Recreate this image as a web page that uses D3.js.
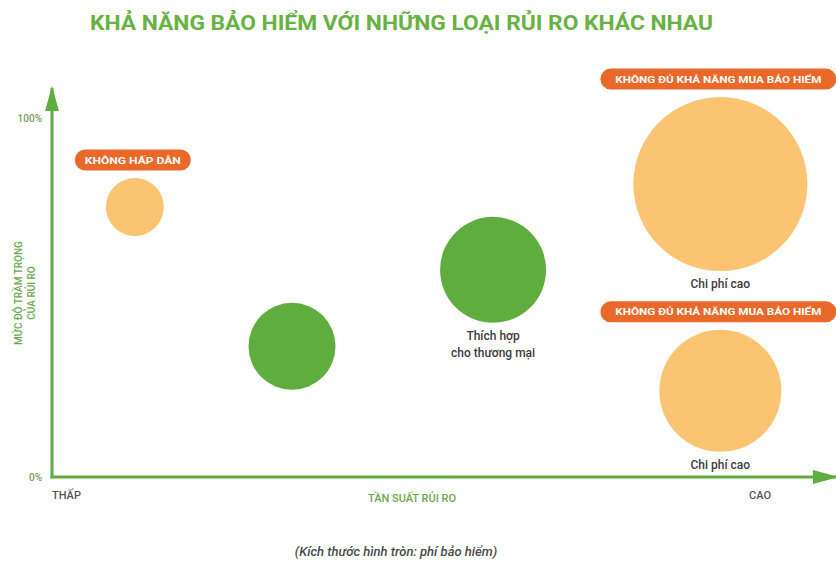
<!DOCTYPE html>
<html>
<head>
<meta charset="utf-8">
<script src="https://cdn.jsdelivr.net/npm/d3@7"></script>
<style>
	body { margin:0; background:#fff; }
	text { font-family: Roboto, "Noto Sans", sans-serif; }
</style>
</head>
<body>
<div id="chart"></div>
<script>

//data
const frequency = [11.7, 33.9, 62.3, 94.4, 94.4];      // tần suất (0 = thấp, 100 = cao)
const severity  = [75.2, 36.4, 57.7, 81.6, 24.0];      // mức độ trầm trọng (%)
const premium   = [11.1, 25.0, 37.1, 100, 49.2];       // phí bảo hiểm (kích thước)
const kind      = ["bad", "good", "good", "bad", "bad"];
const topLabel  = ["KHÔNG HẤP DẪN", "", "", "KHÔNG ĐỦ KHẢ NĂNG MUA BẢO HIỂM", "KHÔNG ĐỦ KHẢ NĂNG MUA BẢO HIỂM"];
const bottomLabel = [[], [], ["Thích hợp", "cho thương mại"], ["Chi phí cao"], ["Chi phí cao"]];
const yTicks = [0, 100];
const xTickLabels = ["THẤP", "CAO"];

const width = 836, height = 567;
const green = "#5fad3e", orange = "#fbc473", pill = "#e8692a";

let svg = d3.select("#chart")
	.append("svg")
	.attr("width", width)
	.attr("height", height);

//scales
let x = d3.scaleLinear().domain([0, 100]).range([52, 760]);
let y = d3.scaleLinear().domain([0, 100]).range([477, 118]);
let r = d3.scaleSqrt().domain([0, 100]).range([0, 87]);
let fillColor = d3.scaleOrdinal().domain(["good", "bad"]).range([green, orange]);

let data = frequency.map((f, i) => ({
	f: f, s: severity[i], p: premium[i], kind: kind[i],
	top: topLabel[i], bottom: bottomLabel[i]
}));

//title
svg.append("text")
	.attr("x", 90)
	.attr("y", 30)
	.attr("fill", "#68b243")
	.attr("font-size", 21)
	.attr("font-weight", "bold")
	.attr("textLength", 623)
	.attr("lengthAdjust", "spacingAndGlyphs")
	.text("KHẢ NĂNG BẢO HIỂM VỚI NHỮNG LOẠI RỦI RO KHÁC NHAU");

//arrow heads
let defs = svg.append("defs");
defs.append("marker")
	.attr("id", "arrow")
	.attr("viewBox", "0 0 10 10")
	.attr("refX", 9)
	.attr("refY", 5)
	.attr("markerUnits", "userSpaceOnUse")
	.attr("markerWidth", 26)
	.attr("markerHeight", 14)
	.attr("orient", "auto")
	.attr("preserveAspectRatio", "none")
	.append("path")
	.attr("d", "M0,0 L10,5 L0,10 Z")
	.attr("fill", green);

//y axis (labels only)
let yAxis = svg.append("g")
	.attr("transform", "translate(" + x(0) + ",0)")
	.call(d3.axisLeft(y).tickValues(yTicks).tickSize(0).tickPadding(10).tickFormat(d => d + "%"));
yAxis.select(".domain").remove();
yAxis.selectAll("text")
	.attr("fill", "#7a9a6a")
	.attr("font-size", 10)
	.attr("font-weight", 500)
	.attr("font-family", "Roboto, sans-serif");

//axis lines
svg.append("line")
	.attr("x1", x(0)).attr("y1", y(0) + 1.5)
	.attr("x2", x(0)).attr("y2", 88)
	.attr("stroke", green)
	.attr("stroke-width", 3)
	.attr("marker-end", "url(#arrow)");

svg.append("line")
	.attr("x1", x(0) - 1.5).attr("y1", y(0))
	.attr("x2", 836).attr("y2", y(0))
	.attr("stroke", green)
	.attr("stroke-width", 3)
	.attr("marker-end", "url(#arrow)");

//x labels
svg.append("text")
	.attr("x", x(0))
	.attr("y", 499)
	.attr("fill", "#555")
	.attr("font-size", 11)
	.attr("font-weight", 500)
	.text(xTickLabels[0]);

svg.append("text")
	.attr("x", x(100))
	.attr("y", 499)
	.attr("text-anchor", "middle")
	.attr("fill", "#555")
	.attr("font-size", 11)
	.attr("font-weight", 500)
	.text(xTickLabels[1]);

svg.append("text")
	.attr("x", 412)
	.attr("y", 502)
	.attr("text-anchor", "middle")
	.attr("fill", "#6aa84f")
	.attr("font-size", 11)
	.attr("font-weight", 500)
	.text("TẦN SUẤT RỦI RO");

//y title
let yTitle = svg.append("text")
	.attr("transform", "translate(22,293) rotate(-90)")
	.attr("text-anchor", "middle")
	.attr("fill", "#6aa84f")
	.attr("font-size", 10)
	.attr("font-weight", 500);
yTitle.append("tspan").attr("x", 0).attr("y", 0).text("MỨC ĐỘ TRẦM TRỌNG");
yTitle.append("tspan").attr("x", 0).attr("y", 13).text("CỦA RỦI RO");

//bubbles
let g = svg.append("g");

g.selectAll(".bubble")
	.data(data)
	.enter().append("circle")
	.attr("class", "bubble")
	.attr("cx", d => x(d.f))
	.attr("cy", d => y(d.s))
	.attr("r", d => r(d.p))
	.attr("fill", d => fillColor(d.kind));

//pills above bubbles
let pills = g.selectAll(".pill")
	.data(data.filter(d => d.top))
	.enter().append("g")
	.attr("class", "pill")
	.attr("transform", d => "translate(" + (x(d.f) - 2) + "," + (y(d.s) - r(d.p) - 18) + ")");

pills.append("rect")
	.attr("x", d => d.top.length > 20 ? -118 : -58)
	.attr("y", -10.5)
	.attr("width", d => d.top.length > 20 ? 236 : 116)
	.attr("height", 21)
	.attr("rx", 10.5)
	.attr("fill", pill);

pills.append("text")
	.attr("text-anchor", "middle")
	.attr("y", 3.5)
	.attr("fill", "#fff")
	.attr("font-size", 9.5)
	.attr("font-weight", "bold")
	.attr("textLength", d => d.top.length > 20 ? 206 : 96)
	.attr("lengthAdjust", "spacingAndGlyphs")
	.text(d => d.top);

//labels below bubbles
data.forEach(d => {
	d.bottom.forEach((line, j) => {
		g.append("text")
			.attr("x", x(d.f))
			.attr("y", y(d.s) + r(d.p) + 17 + j * 17)
			.attr("text-anchor", "middle")
			.attr("fill", "#3c3c3c")
			.attr("font-size", 12)
			.attr("font-weight", 500)
			.text(line);
	});
});

//caption
svg.append("text")
	.attr("x", 396)
	.attr("y", 556)
	.attr("text-anchor", "middle")
	.attr("fill", "#4a4a4a")
	.attr("font-size", 13)
	.attr("font-style", "italic")
	.attr("font-weight", 500)
	.text("(Kích thước hình tròn: phí bảo hiểm)");

</script>
</body>
</html>
